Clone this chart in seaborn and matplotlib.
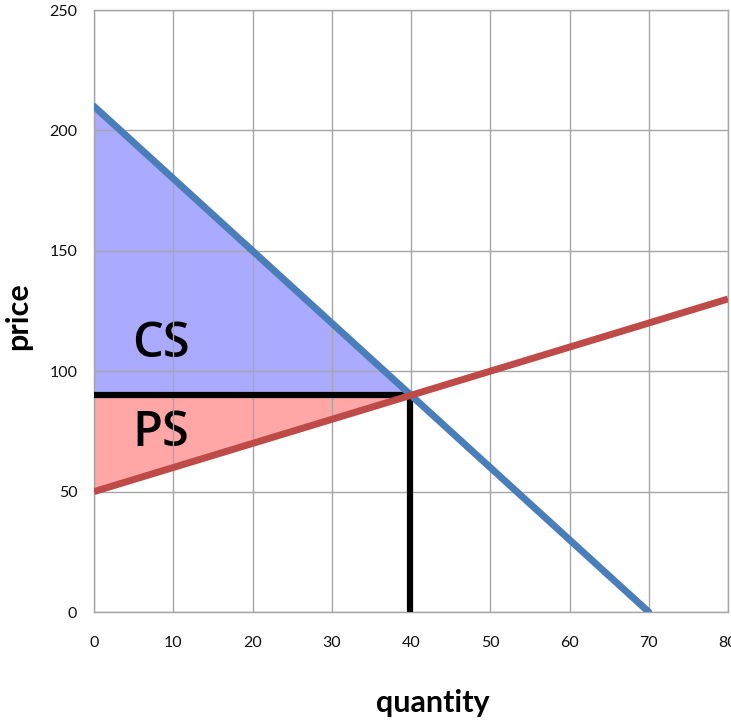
import matplotlib
matplotlib.use("Agg")
import matplotlib.pyplot as plt
import seaborn as sns

# Data
demand_q = [0, 70]
demand_p = [210, 0]
supply_q = [0, 80]
supply_p = [50, 130]
eq_q = 40
eq_p = 90
x_ticks = [0, 10, 20, 30, 40, 50, 60, 70, 80]
y_ticks = [0, 50, 100, 150, 200, 250]

sns.set_style("white")
plt.rcParams['font.family'] = ['Lato', 'DejaVu Sans']

fig = plt.figure(figsize=(7.31, 7.20), dpi=100)
ax = fig.add_axes([94/731, 1-612/720, (728-94)/731, (612-10)/720])

grid_c = "#A6A6A6"
ax.set_xlim(0, 80)
ax.set_ylim(0, 250)
ax.set_xticks(x_ticks)
ax.set_yticks(y_ticks)
ax.grid(True, color=grid_c, linewidth=1.0)
ax.set_axisbelow(False)  # grid drawn over the filled areas and labels
for s in ax.spines.values():
    s.set_color(grid_c)
    s.set_linewidth(1.0)
ax.tick_params(axis='both', colors=grid_c, labelcolor="#111111", labelsize=11.5,
               length=5, width=1.0)
ax.tick_params(axis='x', pad=12)
ax.tick_params(axis='y', pad=7)

# Surplus areas
ax.fill([0, 0, eq_q], [demand_p[0], eq_p, eq_p], color="#AAAAFF", linewidth=0, zorder=1)
ax.fill([0, 0, eq_q], [eq_p, supply_p[0], eq_p], color="#FFA6A6", linewidth=0, zorder=1)

# Equilibrium lines
sns.lineplot(x=[0, eq_q], y=[eq_p, eq_p], color="black", linewidth=4.5, ax=ax,
             zorder=3, solid_capstyle="butt", estimator=None, sort=False)
sns.lineplot(x=[eq_q - 0.15, eq_q - 0.15], y=[0, eq_p], color="black", linewidth=4.5, ax=ax,
             zorder=3, solid_capstyle="butt", estimator=None, sort=False)

# Demand and supply
sns.lineplot(x=demand_q, y=demand_p, color="#4A7EBB", linewidth=5, ax=ax, zorder=4,
             solid_capstyle="round", estimator=None, sort=False)
sns.lineplot(x=supply_q, y=supply_p, color="#BE4B48", linewidth=5, ax=ax, zorder=5,
             solid_capstyle="butt", estimator=None, sort=False)

ax.text(4.8, 111, "CS", fontsize=35, fontweight="semibold", color="black", ha="left",
        va="center", zorder=2, family=["Open Sans", "DejaVu Sans"])
ax.text(4.8, 74, "PS", fontsize=35, fontweight="semibold", color="black", ha="left",
        va="center", zorder=2, family=["Open Sans", "DejaVu Sans"])

ax.set_xlabel("quantity", fontsize=22, fontweight="bold", color="black")
ax.set_ylabel("price", fontsize=22, fontweight="bold", color="black")
ax.xaxis.set_label_coords((433-94)/634, (612-703)/602)
ax.yaxis.set_label_coords((18-94)/634, (612-316)/602)
ax.xaxis.label.set_va("center")
ax.yaxis.label.set_va("center")

fig.savefig("out.png", dpi=100)
